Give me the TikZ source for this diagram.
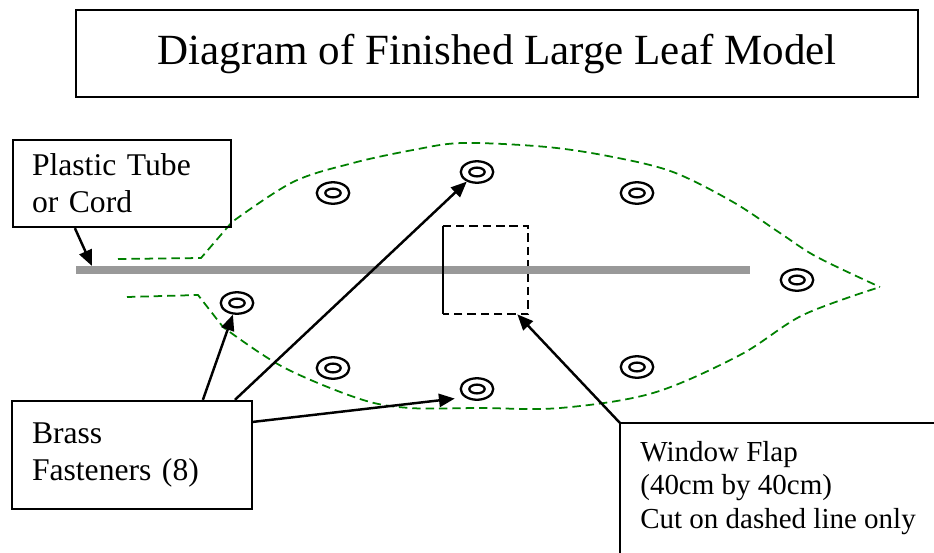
\documentclass[tikz,border=0pt]{standalone}
\usepackage{fontspec}
\setmainfont{Liberation Serif}
\usetikzlibrary{calc,positioning,shapes.geometric,arrows.meta}

\definecolor{leafgreen}{RGB}{0,128,0}
\definecolor{tubegray}{RGB}{153,153,153}

\begin{document}
\begin{tikzpicture}[x=0.02cm, y=-0.02cm,
    labelbox/.style={draw, line width=1.3pt, align=left, inner ysep=0pt},
    fastener/.style={ellipse, draw, line width=1.3pt, minimum width=0.65cm, minimum height=0.43cm, inner sep=0pt,
        path picture={\draw[line width=1.3pt] (path picture bounding box.center) ellipse [x radius=0.154cm, y radius=0.088cm];}},
    pointer/.style={line width=1.4pt, -{Triangle[length=9pt,width=7.5pt]}},
    leafline/.style={leafgreen, line width=1pt, dash pattern=on 4.8pt off 2.8pt},
    cutline/.style={line width=1pt, dash pattern=on 4.8pt off 2.8pt}]

        \useasboundingbox (0,0) rectangle (934,552);
        \clip (0,0) rectangle (934,552);

        % Define points of the leaf
        \coordinate (tubeL) at (76,270);
        \coordinate (tubeR) at (750,270);
        \coordinate (tubeTip) at (92,266);
        \coordinate (winTL) at (620,423);



        % Leaf outline
        \draw[leafline] (118,259) -- (201,258) -- plot[smooth, tension=0.55] coordinates {(232,222) (293,182) (353,163) (413,150) (463,143) (547,147) (613,157) (673,172) (733,202) (780,233) (817,257) (880,287)};
        \draw[leafline] (127,297) -- (198,295) -- plot[smooth, tension=0.55] coordinates {(223,327) (283,367) (360,399) (410,408) (480,408) (560,408) (653,393) (740,355) (803,315) (880,287)};

        % Window flap
        \node[inner sep=0pt, minimum width=1.7cm, minimum height=1.76cm] (flap) at (485.5,270) {};
        \draw[cutline] (flap.north west) -| (flap.south east) -- (flap.south west);

        % Tube
        \draw[tubegray, line width=4.5pt] (tubeL) -- (tubeR);
        \draw[line width=1.2pt] (flap.north west) -- (flap.south west);

        % Fasteners
        \foreach \n/\fx/\fy in {1/333/193, 2/477/172, 3/637/193, 4/797/280, 5/237/303, 6/333/368, 7/477/389, 8/637/367}
            \node[fastener] (f\n) at (\fx,\fy) {};


        % Labels
        \node[labelbox, align=center, minimum width=16.84cm, minimum height=1.74cm, font=\fontsize{24.5}{29}\selectfont] (title) at (497,53.5) {Diagram of Finished Large Leaf Model};
        \node[labelbox, text width=3.6cm, inner xsep=0.38cm, minimum height=1.74cm, font=\fontsize{18}{21}\selectfont] (plastic) at (122,183.5) {Plastic Tube\\or Cord};
        \node[labelbox, text width=4cm, inner xsep=0.4cm, minimum height=2.16cm, font=\fontsize{18}{21}\selectfont] (brass) at (132,455) {Brass\\Fasteners (8)};
        \node[anchor=north west, inner sep=0pt, align=left, font=\fontsize{16.5}{19}\selectfont] (window) at (640,441) {Window Flap\\(40cm by 40cm)\\Cut on dashed line only};
        \draw[line width=1.3pt] (winTL) ++(340,0) -- (winTL) -- ++(0,160);

        % Arrows
        \draw[pointer] ($(plastic.south west)+(63,0)$) -- (tubeTip);
        \draw[pointer] ($(brass.north west)+(192,0)$) -- (f5);
        \draw[pointer] ($(brass.north west)+(224,0)$) -- (f2);
        \draw[pointer, shorten >=0.2cm] ($(brass.north east)+(0,22)$) -- (f7.south west);
        \draw[pointer] (winTL) -- ($(flap.south east)+(-11,0)$);


    \end{tikzpicture}
\end{document}
